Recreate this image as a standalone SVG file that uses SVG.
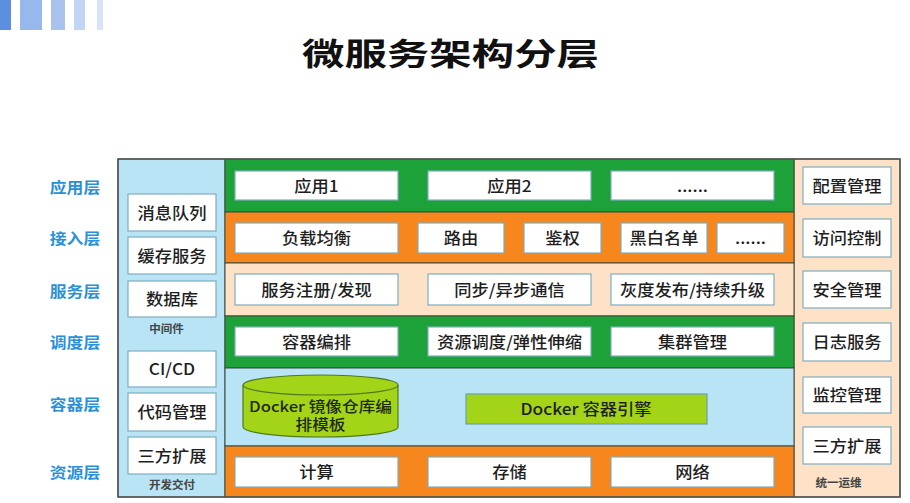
<svg xmlns="http://www.w3.org/2000/svg" width="910" height="503" viewBox="0 0 910 503">
<style>
.t{font-family:"Noto Sans CJK SC","Noto Sans",sans-serif;font-size:16px;font-weight:500;fill:#1e1e1e;text-anchor:middle}
.ct{font-family:"Noto Sans CJK SC","Noto Sans",sans-serif;font-size:14.5px;font-weight:500;fill:#1e2a10;text-anchor:middle}
.lbl{font-family:"Noto Sans CJK SC","Noto Sans",sans-serif;font-size:15px;font-weight:bold;fill:#2a90d8;text-anchor:middle}
.sm{font-family:"Noto Sans CJK SC","Noto Sans",sans-serif;font-size:11px;font-weight:bold;fill:#444;text-anchor:middle}
.title{font-family:"Noto Sans CJK SC","Noto Sans",sans-serif;font-size:31px;font-weight:bold;fill:#111;text-anchor:middle}
.box{fill:#fff;stroke:#7eaebd;stroke-width:1.2}
.row{stroke:#3d4a3d;stroke-width:1}
.green{fill:#1ca239}
.orange{fill:#f7861d}
.peach{fill:#fde2c8}
.lblue{fill:#b8e4f5}
.lime{fill:#a4d417}
</style>
<rect width="910" height="503" fill="#fff"/>
<g id="decor">
<rect x="0" y="0" width="11" height="30" fill="#5b8fe0"/>
<rect x="20" y="0" width="22" height="30" fill="#96b8ec"/>
<rect x="51" y="0" width="14" height="30" fill="#a9c2ee"/>
<rect x="74" y="0" width="11" height="30" fill="#c3d5f4"/>
<rect x="97" y="0" width="6" height="30" fill="#d8e3f8"/>
</g>
<g id="title"><text class="title" transform="translate(450.5,65) scale(1.37,1)">微服务架构分层</text></g>
<g id="layer-labels">
<text class="lbl" transform="translate(75,192.7) scale(1.12,1)">应用层</text>
<text class="lbl" transform="translate(75,243.7) scale(1.12,1)">接入层</text>
<text class="lbl" transform="translate(75,296.7) scale(1.12,1)">服务层</text>
<text class="lbl" transform="translate(75,348.2) scale(1.12,1)">调度层</text>
<text class="lbl" transform="translate(75,409.7) scale(1.12,1)">容器层</text>
<text class="lbl" transform="translate(75,478.2) scale(1.12,1)">资源层</text>
</g>
<g id="bands">
<rect class="lblue row" x="118" y="159" width="107" height="338"/>
<rect class="peach row" x="794" y="159" width="106" height="338"/>
<rect class="green row" x="225" y="159" width="569" height="53"/>
<rect class="orange row" x="225" y="212" width="569" height="51"/>
<rect class="peach row" x="225" y="263" width="569" height="53"/>
<rect class="green row" x="225" y="316" width="569" height="52"/>
<rect class="lblue row" x="225" y="368" width="569" height="78"/>
<rect class="orange row" x="225" y="446" width="569" height="51"/>
<rect x="118" y="159" width="782" height="338" fill="none" stroke="#555" stroke-width="1.5"/>
</g>
<g id="app-layer">
<g id="app1"><rect class="box" x="235" y="171" width="163" height="29"/><text class="t" transform="translate(316.5,191.5) scale(1.08,1)">应用1</text></g>
<g id="app2"><rect class="box" x="428" y="171" width="163" height="29"/><text class="t" transform="translate(509.5,191.5) scale(1.08,1)">应用2</text></g>
<g id="app-more"><rect class="box" x="611" y="171" width="163" height="29"/><text class="t" transform="translate(692.5,191.5) scale(1.08,1)">......</text></g>
</g>
<g id="access-layer">
<g id="lb"><rect class="box" x="235" y="223" width="163" height="30"/><text class="t" transform="translate(316.5,244) scale(1.08,1)">负载均衡</text></g>
<g id="route"><rect class="box" x="418" y="223" width="86" height="30"/><text class="t" transform="translate(461,244) scale(1.08,1)">路由</text></g>
<g id="auth"><rect class="box" x="524" y="223" width="77" height="30"/><text class="t" transform="translate(562.5,244) scale(1.08,1)">鉴权</text></g>
<g id="bwlist"><rect class="box" x="621" y="223" width="86" height="30"/><text class="t" transform="translate(664,244) scale(1.08,1)">黑白名单</text></g>
<g id="access-more"><rect class="box" x="717" y="223" width="67" height="30"/><text class="t" transform="translate(750.5,244) scale(1.08,1)">......</text></g>
</g>
<g id="service-layer">
<g id="reg"><rect class="box" x="235" y="274" width="163" height="31"/><text class="t" transform="translate(316.5,295.5) scale(1.08,1)">服务注册/发现</text></g>
<g id="comm"><rect class="box" x="428" y="274" width="163" height="31"/><text class="t" transform="translate(509.5,295.5) scale(1.08,1)">同步/异步通信</text></g>
<g id="gray"><rect class="box" x="611" y="274" width="163" height="31"/><text class="t" transform="translate(692.5,295.5) scale(1.08,1)">灰度发布/持续升级</text></g>
</g>
<g id="schedule-layer">
<g id="orch"><rect class="box" x="235" y="327" width="163" height="29"/><text class="t" transform="translate(316.5,347.5) scale(1.08,1)">容器编排</text></g>
<g id="elastic"><rect class="box" x="428" y="327" width="163" height="29"/><text class="t" transform="translate(509.5,347.5) scale(1.08,1)">资源调度/弹性伸缩</text></g>
<g id="cluster"><rect class="box" x="611" y="327" width="163" height="29"/><text class="t" transform="translate(692.5,347.5) scale(1.08,1)">集群管理</text></g>
</g>
<g id="container-layer">
<g id="registry">
<path d="M243,385 L243,427 A77.5,10 0 0 0 398,427 L398,385" class="lime" stroke="#4f7a1c" stroke-width="1.2"/>
<ellipse cx="320.5" cy="385" rx="77.5" ry="10" class="lime" stroke="#4f7a1c" stroke-width="1.2"/>
<text class="ct" transform="translate(320.5,411.5) scale(1.15,1)">Docker 镜像仓库编</text>
<text class="ct" transform="translate(320.5,430) scale(1.15,1)">排模板</text>
</g>
<g id="engine"><rect x="466" y="394" width="241" height="30" class="lime" stroke="#6aa0b0" stroke-width="1.2"/><text class="t" transform="translate(586,415) scale(1.08,1)">Docker 容器引擎</text></g>
</g>
<g id="resource-layer">
<g id="compute"><rect class="box" x="235" y="457" width="163" height="30"/><text class="t" transform="translate(316.5,478) scale(1.08,1)">计算</text></g>
<g id="storage"><rect class="box" x="428" y="457" width="163" height="30"/><text class="t" transform="translate(509.5,478) scale(1.08,1)">存储</text></g>
<g id="network"><rect class="box" x="611" y="457" width="163" height="30"/><text class="t" transform="translate(692.5,478) scale(1.08,1)">网络</text></g>
</g>
<g id="left-column">
<g id="mq"><rect class="box" x="128" y="194" width="88" height="37"/><text class="t" transform="translate(172,218.5) scale(1.08,1)">消息队列</text></g>
<g id="cache"><rect class="box" x="128" y="237" width="88" height="37"/><text class="t" transform="translate(172,261.5) scale(1.08,1)">缓存服务</text></g>
<g id="db"><rect class="box" x="128" y="281" width="88" height="36"/><text class="t" transform="translate(172,305) scale(1.08,1)">数据库</text></g>
<text class="sm" transform="translate(166.5,333) scale(1.05,1)">中间件</text>
<g id="cicd"><rect class="box" x="128" y="351" width="88" height="36"/><text class="t" transform="translate(172,375) scale(1.08,1)">CI/CD</text></g>
<g id="code"><rect class="box" x="128" y="393" width="88" height="38"/><text class="t" transform="translate(172,418) scale(1.08,1)">代码管理</text></g>
<g id="ext-left"><rect class="box" x="128" y="437" width="88" height="37"/><text class="t" transform="translate(172,461.5) scale(1.08,1)">三方扩展</text></g>
<text class="sm" transform="translate(172,489) scale(1.05,1)">开发交付</text>
</g>
<g id="right-column">
<g id="config"><rect class="box" x="803" y="167" width="88" height="37"/><text class="t" transform="translate(847,191.5) scale(1.08,1)">配置管理</text></g>
<g id="acl"><rect class="box" x="803" y="219" width="88" height="38"/><text class="t" transform="translate(847,244) scale(1.08,1)">访问控制</text></g>
<g id="security"><rect class="box" x="803" y="271" width="88" height="37"/><text class="t" transform="translate(847,295.5) scale(1.08,1)">安全管理</text></g>
<g id="log"><rect class="box" x="803" y="323" width="88" height="38"/><text class="t" transform="translate(847,348) scale(1.08,1)">日志服务</text></g>
<g id="monitor"><rect class="box" x="803" y="377" width="88" height="36"/><text class="t" transform="translate(847,401) scale(1.08,1)">监控管理</text></g>
<g id="ext-right"><rect class="box" x="803" y="427" width="88" height="37"/><text class="t" transform="translate(847,451.5) scale(1.08,1)">三方扩展</text></g>
<text class="sm" transform="translate(838.5,487) scale(1.05,1)">统一运维</text>
</g>
</svg>
